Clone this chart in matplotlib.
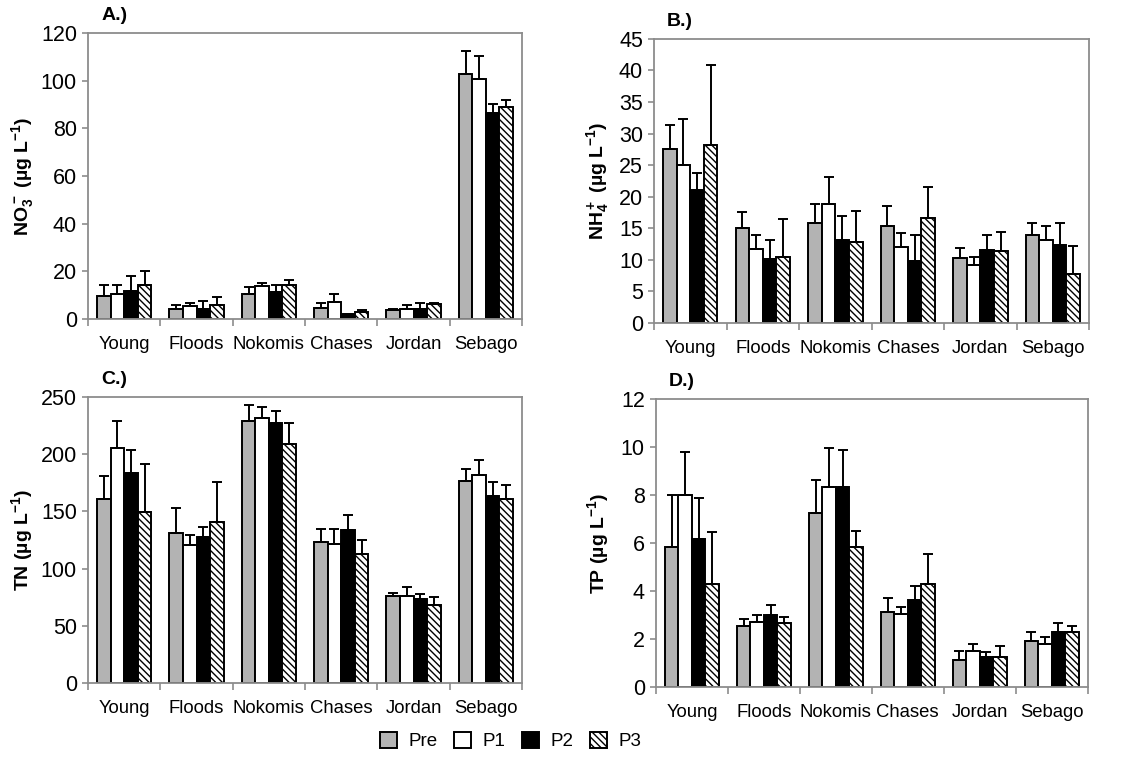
import matplotlib
matplotlib.use("Agg")
import matplotlib.pyplot as plt
import numpy as np

plt.rcParams['font.family'] = ['Liberation Sans', 'DejaVu Sans']
plt.rcParams['mathtext.fontset'] = 'custom'
plt.rcParams['mathtext.bf'] = 'Liberation Sans:bold'
plt.rcParams['mathtext.rm'] = 'Liberation Sans:bold'
plt.rcParams['mathtext.default'] = 'bf'
plt.rcParams['hatch.linewidth'] = 1.0

sites = ['Young', 'Floods', 'Nokomis', 'Chases', 'Jordan', 'Sebago']
periods = ['Pre', 'P1', 'P2', 'P3']

# NO3- (ug/L), mean and sd
no3_mean = [[9.8, 4.3, 10.6, 4.6, 3.6, 102.9],
            [10.5, 5.3, 13.7, 7.0, 4.3, 100.8],
            [11.7, 4.3, 11.2, 2.1, 4.3, 86.4],
            [14.3, 6.0, 14.4, 2.9, 6.2, 88.9]]
no3_sd = [[4.3, 1.7, 2.8, 2.1, 0.6, 9.7],
          [3.6, 1.4, 1.3, 3.5, 1.6, 9.4],
          [6.2, 3.1, 2.9, 0.2, 2.4, 3.9],
          [5.7, 3.1, 2.1, 0.9, 0.3, 3.1]]

# NH4+
nh4_mean = [[27.6, 15.0, 15.9, 15.3, 10.3, 13.9],
            [25.1, 11.7, 18.9, 12.0, 9.2, 13.1],
            [21.1, 10.2, 13.2, 9.9, 11.6, 12.4],
            [28.2, 10.5, 12.8, 16.7, 11.4, 7.8]]
nh4_sd = [[3.8, 2.6, 3.0, 3.3, 1.6, 1.9],
          [7.2, 2.2, 4.2, 2.2, 1.3, 2.2],
          [2.6, 2.9, 3.8, 4.0, 2.3, 3.4],
          [12.6, 5.9, 5.0, 4.8, 3.0, 4.4]]

# TN
tn_mean = [[160.9, 131.4, 228.7, 123.5, 75.6, 176.4],
           [205.3, 120.3, 231.6, 121.8, 75.6, 182.2],
           [183.4, 127.6, 227.2, 133.8, 73.6, 163.0],
           [149.8, 140.8, 208.8, 113.0, 68.0, 161.0]]
tn_sd = [[19.6, 21.6, 14.0, 11.1, 3.3, 10.5],
         [23.4, 9.1, 9.4, 12.8, 7.9, 12.6],
         [20.5, 8.5, 10.8, 13.1, 3.8, 13.0],
         [41.8, 35.3, 18.4, 12.0, 7.3, 12.0]]

# TP
tp_mean = [[5.83, 2.53, 7.24, 3.11, 1.12, 1.93],
           [7.99, 2.69, 8.35, 3.04, 1.48, 1.80],
           [6.18, 3.01, 8.32, 3.61, 1.24, 2.28],
           [4.29, 2.67, 5.83, 4.29, 1.26, 2.31]]
tp_sd = [[2.16, 0.30, 1.40, 0.61, 0.38, 0.36],
         [1.81, 0.30, 1.62, 0.31, 0.31, 0.27],
         [1.70, 0.41, 1.57, 0.61, 0.23, 0.39],
         [2.15, 0.23, 0.67, 1.25, 0.45, 0.24]]

colors = ['#b3b3b3', 'white', 'black', 'white']
hatches = [None, None, None, '\\\\\\\\\\']
frame = '#8c8c8c'

fig = plt.figure(figsize=(11.42, 7.72), dpi=100)

panels = [
    ('A.)', r'NO$_3^-$ (µg L$^{-1}$)', no3_mean, no3_sd, 120, 20, [0.0771, 0.5868, 0.380, 0.3705], -0.152),
    ('B.)', r'NH$_4^+$ (µg L$^{-1}$)', nh4_mean, nh4_sd, 45, 5, [0.5727, 0.5816, 0.381, 0.368], -0.129),
    ('C.)', r'TN (µg L$^{-1}$)', tn_mean, tn_sd, 250, 50, [0.0771, 0.1153, 0.380, 0.3705], -0.152),
    ('D.)', r'TP (µg L$^{-1}$)', tp_mean, tp_sd, 12, 2, [0.5744, 0.1101, 0.378, 0.373], -0.134),
]

x = np.arange(len(sites))
w = 0.1875
for tag, ylab, means, sds, ymax, step, pos, labx in panels:
    ax = fig.add_axes(pos)
    for i in range(4):
        ax.bar(x + (i - 1.5) * w, means[i], w, color=colors[i], edgecolor='black',
               linewidth=1.4, hatch=hatches[i], label=periods[i], zorder=2)
        ax.errorbar(x + (i - 1.5) * w, means[i], yerr=[np.zeros(6), sds[i]], fmt='none',
                    ecolor='black', elinewidth=1.4, capsize=3.5, capthick=1.4, zorder=3)
    ax.set_xlim(-0.5, 5.5)
    ax.set_ylim(0, ymax)
    ax.set_yticks(np.arange(0, ymax + step / 2, step))
    ax.set_xticks(x)
    ax.set_xticklabels(sites, fontsize=13.3)
    ax.set_xticks(np.arange(-0.5, 6, 1), minor=True)
    ax.tick_params(axis='x', which='major', length=0, pad=12)
    ax.tick_params(axis='x', which='minor', length=5, color=frame, width=1.2)
    ax.tick_params(axis='y', length=4, color=frame, width=1.2, labelsize=15.5, pad=4)
    for s in ax.spines.values():
        s.set_color(frame)
        s.set_linewidth(1.3)
    ax.set_ylabel(ylab, fontsize=14, fontweight='bold')
    ax.yaxis.label.set_verticalalignment('center')
    ax.yaxis.set_label_coords(labx, 0.5)
    ax.text(0.03, 1.06, tag, transform=ax.transAxes, fontsize=14,
            fontweight='bold', va='center', ha='left')
    if tag == 'A.)':
        handles, labels = ax.get_legend_handles_labels()

fig.legend(handles, labels, loc='center', bbox_to_anchor=(0.447, 0.04), ncol=4,
           frameon=False, fontsize=13.5, handlelength=0.9, handleheight=0.9,
           handletextpad=0.6, columnspacing=0.9)

fig.savefig('out.png', dpi=100)
